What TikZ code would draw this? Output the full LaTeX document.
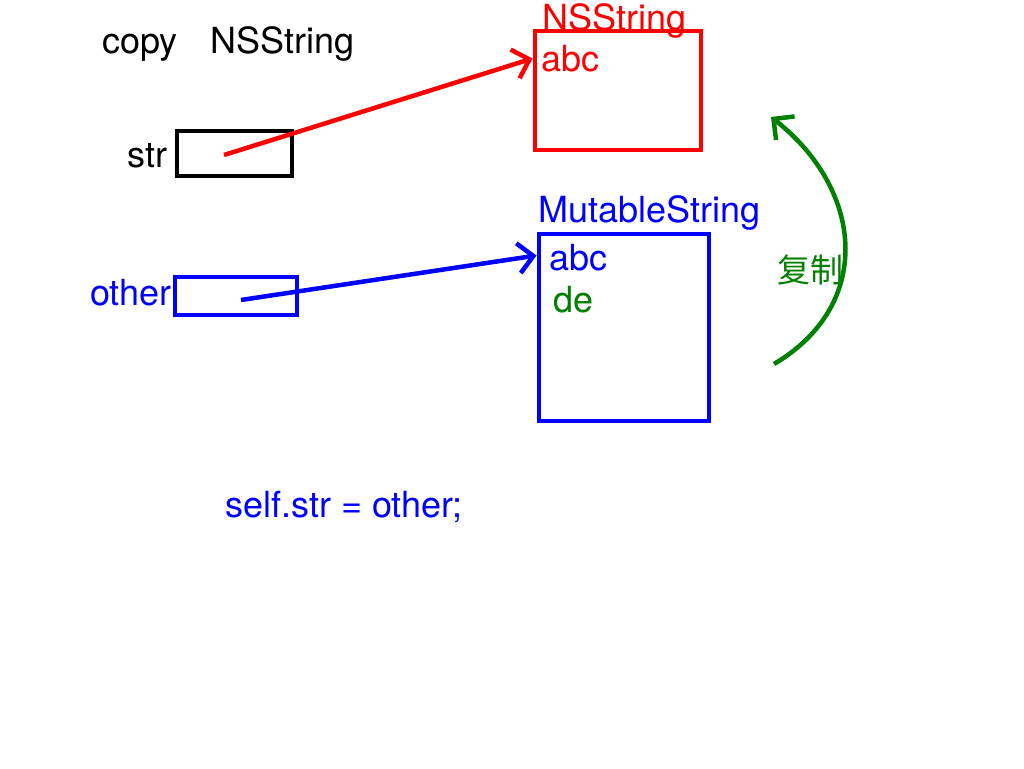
\documentclass[tikz,border=0pt]{standalone}
\usepackage{fontspec}
\setmainfont{TeX Gyre Heros}
\newfontfamily\cjk{Noto Sans CJK SC}
\usetikzlibrary{arrows.meta}
\definecolor{dgreen}{RGB}{0,128,0}
\tikzset{
  lbl/.style={anchor=base west, inner sep=0pt, font=\fontsize{36}{40}\selectfont},
  membox/.style={draw, line width=4pt, inner sep=0pt},
  ptr/.style={line width=4.5pt, -{Straight Barb[length=15pt,width=30pt,line width=4.5pt]}},
}
\begin{document}
\begin{tikzpicture}[x=1pt,y=-1pt]
\useasboundingbox[fill=white] (0,0) rectangle (1024,768);
% headings
\node[lbl] (copy) at (102,53) {copy};
\node[lbl] (type) at (210,53) {NSString};
% str variable
\node[lbl] (strlbl) at (127,167) {str};
\node[membox, black, minimum width=115pt, minimum height=45pt] (strbox) at (234,153) {};
% other variable
\node[lbl, blue] (otherlbl) at (90,305) {other};
\node[membox, blue, minimum width=122pt, minimum height=38pt] (otherbox) at (235.5,295.5) {};
% NSString object
\node[membox, red, minimum width=166pt, minimum height=118pt] (nsbox) at (617.5,90.5) {};
\node[lbl, red] (nstitle) at (542,31) {NSString};
\node[lbl, red] (nsabc) at (541,71) {abc};
% MutableString object
\node[lbl, blue] (mtitle) at (538,222) {MutableString};
\node[membox, blue, minimum width=170pt, minimum height=187pt] (mbox) at (623.5,327) {};
\node[lbl, blue] (mabc) at (549,270) {abc};
\node[lbl, dgreen] (mde) at (553,312) {de};
% code line
\node[lbl, blue] (code) at (225,517) {self.str = other;};
% copy annotation
\node[anchor=base west, inner sep=0pt, dgreen, font=\cjk\fontsize{33}{38}\selectfont] (fuzhi) at (777,282) {复制};
% pointers
\coordinate (strptr) at (224,155);
\coordinate (otherptr) at (241,300);
\draw[ptr, red] (strptr) -- ([yshift=-29pt]nsbox.north west);
\draw[ptr, blue] (otherptr) -- ([yshift=-24pt]mbox.north west);
% copy curve
\coordinate (cstart) at (774,364);
\coordinate (cend) at (771,117);
\draw[ptr, dgreen] (cstart) .. controls (874,305) and (864,190) .. (cend);
\end{tikzpicture}
\end{document}
